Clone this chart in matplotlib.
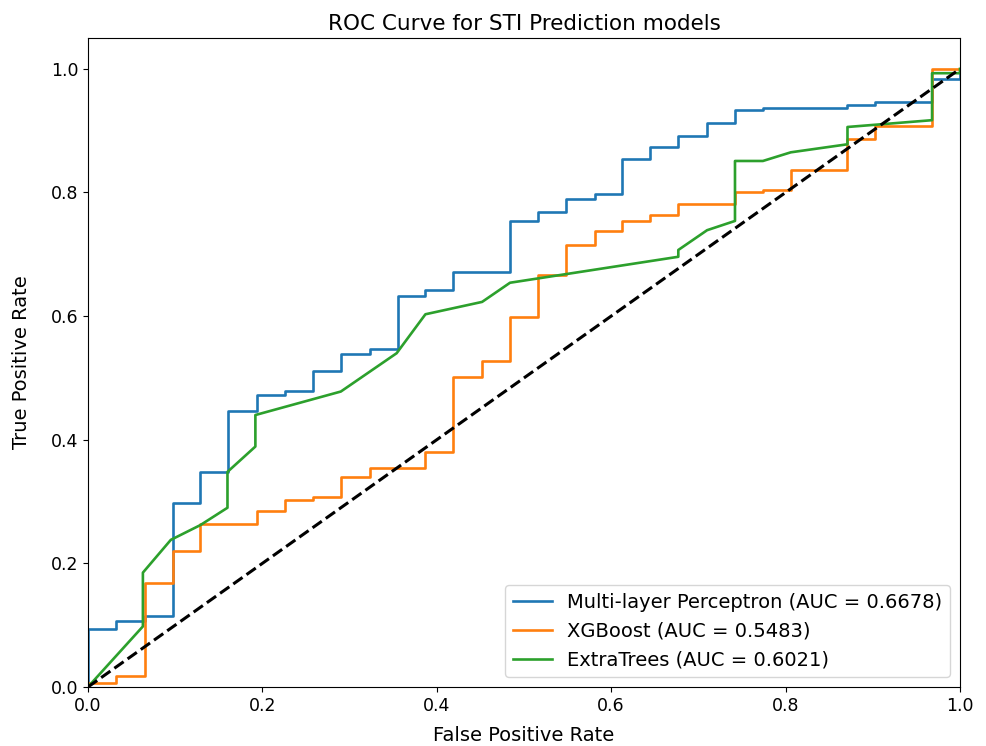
import numpy as np
import matplotlib
matplotlib.use('Agg')
import matplotlib.pyplot as plt

# ROC points (fpr, tpr)
mlp_fpr = [0, 0, 0.032, 0.032, 0.065, 0.065, 0.097, 0.097, 0.129, 0.129, 0.161, 0.161,
           0.194, 0.194, 0.226, 0.226, 0.258, 0.258, 0.290, 0.290, 0.323, 0.323, 0.355, 0.355,
           0.387, 0.387, 0.419, 0.419, 0.484, 0.484, 0.516, 0.516, 0.548, 0.548, 0.581, 0.581,
           0.613, 0.613, 0.645, 0.645, 0.677, 0.677, 0.710, 0.710, 0.742, 0.742, 0.774, 0.774,
           0.871, 0.871, 0.903, 0.903, 0.968, 0.968, 1.0, 1.0]
mlp_tpr = [0, 0.094, 0.094, 0.107, 0.107, 0.115, 0.115, 0.298, 0.298, 0.348, 0.348, 0.447,
           0.447, 0.472, 0.472, 0.479, 0.479, 0.511, 0.511, 0.539, 0.539, 0.547, 0.547, 0.633,
           0.633, 0.642, 0.642, 0.671, 0.671, 0.754, 0.754, 0.769, 0.769, 0.789, 0.789, 0.797,
           0.797, 0.854, 0.854, 0.874, 0.874, 0.891, 0.891, 0.913, 0.913, 0.934, 0.934, 0.937,
           0.937, 0.941, 0.941, 0.946, 0.946, 0.983, 0.983, 1.0]

xgb_fpr = [0, 0, 0.032, 0.032, 0.065, 0.065, 0.097, 0.097, 0.129, 0.129, 0.194, 0.194,
           0.226, 0.226, 0.258, 0.258, 0.290, 0.290, 0.323, 0.323, 0.387, 0.387, 0.419, 0.419,
           0.452, 0.452, 0.484, 0.484, 0.516, 0.516, 0.548, 0.548, 0.581, 0.581, 0.613, 0.613,
           0.645, 0.645, 0.677, 0.677, 0.742, 0.742, 0.774, 0.774, 0.806, 0.806, 0.871, 0.871,
           0.903, 0.903, 0.968, 0.968, 1.0]
xgb_tpr = [0, 0.006, 0.006, 0.018, 0.018, 0.169, 0.169, 0.220, 0.220, 0.264, 0.264, 0.285,
           0.285, 0.303, 0.303, 0.308, 0.308, 0.340, 0.340, 0.354, 0.354, 0.380, 0.380, 0.502,
           0.502, 0.527, 0.527, 0.599, 0.599, 0.666, 0.666, 0.715, 0.715, 0.738, 0.738, 0.754,
           0.754, 0.763, 0.763, 0.781, 0.781, 0.801, 0.801, 0.804, 0.804, 0.837, 0.837, 0.887,
           0.887, 0.908, 0.908, 1.0, 1.0]

et_fpr = [0, 0.063, 0.063, 0.095, 0.129, 0.160, 0.160, 0.192, 0.192, 0.290, 0.354, 0.387,
          0.452, 0.484, 0.677, 0.677, 0.710, 0.742, 0.742, 0.774, 0.806, 0.871, 0.871, 0.968,
          0.968, 1.0, 1.0]
et_tpr = [0, 0.098, 0.185, 0.238, 0.262, 0.290, 0.348, 0.389, 0.440, 0.478, 0.540, 0.603,
          0.623, 0.654, 0.696, 0.707, 0.739, 0.754, 0.851, 0.851, 0.865, 0.878, 0.906, 0.917,
          0.993, 0.993, 1.0]

labels = ['Multi-layer Perceptron (AUC = 0.6678)',
          'XGBoost (AUC = 0.5483)',
          'ExtraTrees (AUC = 0.6021)']

fig = plt.figure(figsize=(9.86, 7.46), dpi=100)
ax = fig.add_axes([0.0892, 0.0791, 0.8844, 0.870])

ax.plot(mlp_fpr, mlp_tpr, color='#1f77b4', lw=1.9, label=labels[0])
ax.plot(xgb_fpr, xgb_tpr, color='#ff7f0e', lw=1.9, label=labels[1])
ax.plot(et_fpr, et_tpr, color='#2ca02c', lw=1.9, label=labels[2])
ax.plot([0, 1], [0, 1], 'k--', lw=2.2)

ax.set_xlim([0.0, 1.0])
ax.set_ylim([0.0, 1.05])
ax.tick_params(labelsize=12.5)
ax.set_xlabel('False Positive Rate', fontsize=14, labelpad=8)
ax.set_ylabel('True Positive Rate', fontsize=14, labelpad=14)
ax.set_title('ROC Curve for STI Prediction models', fontsize=15.5)
ax.legend(loc='lower right', fontsize=14)

fig.savefig('out.png', dpi=100)
